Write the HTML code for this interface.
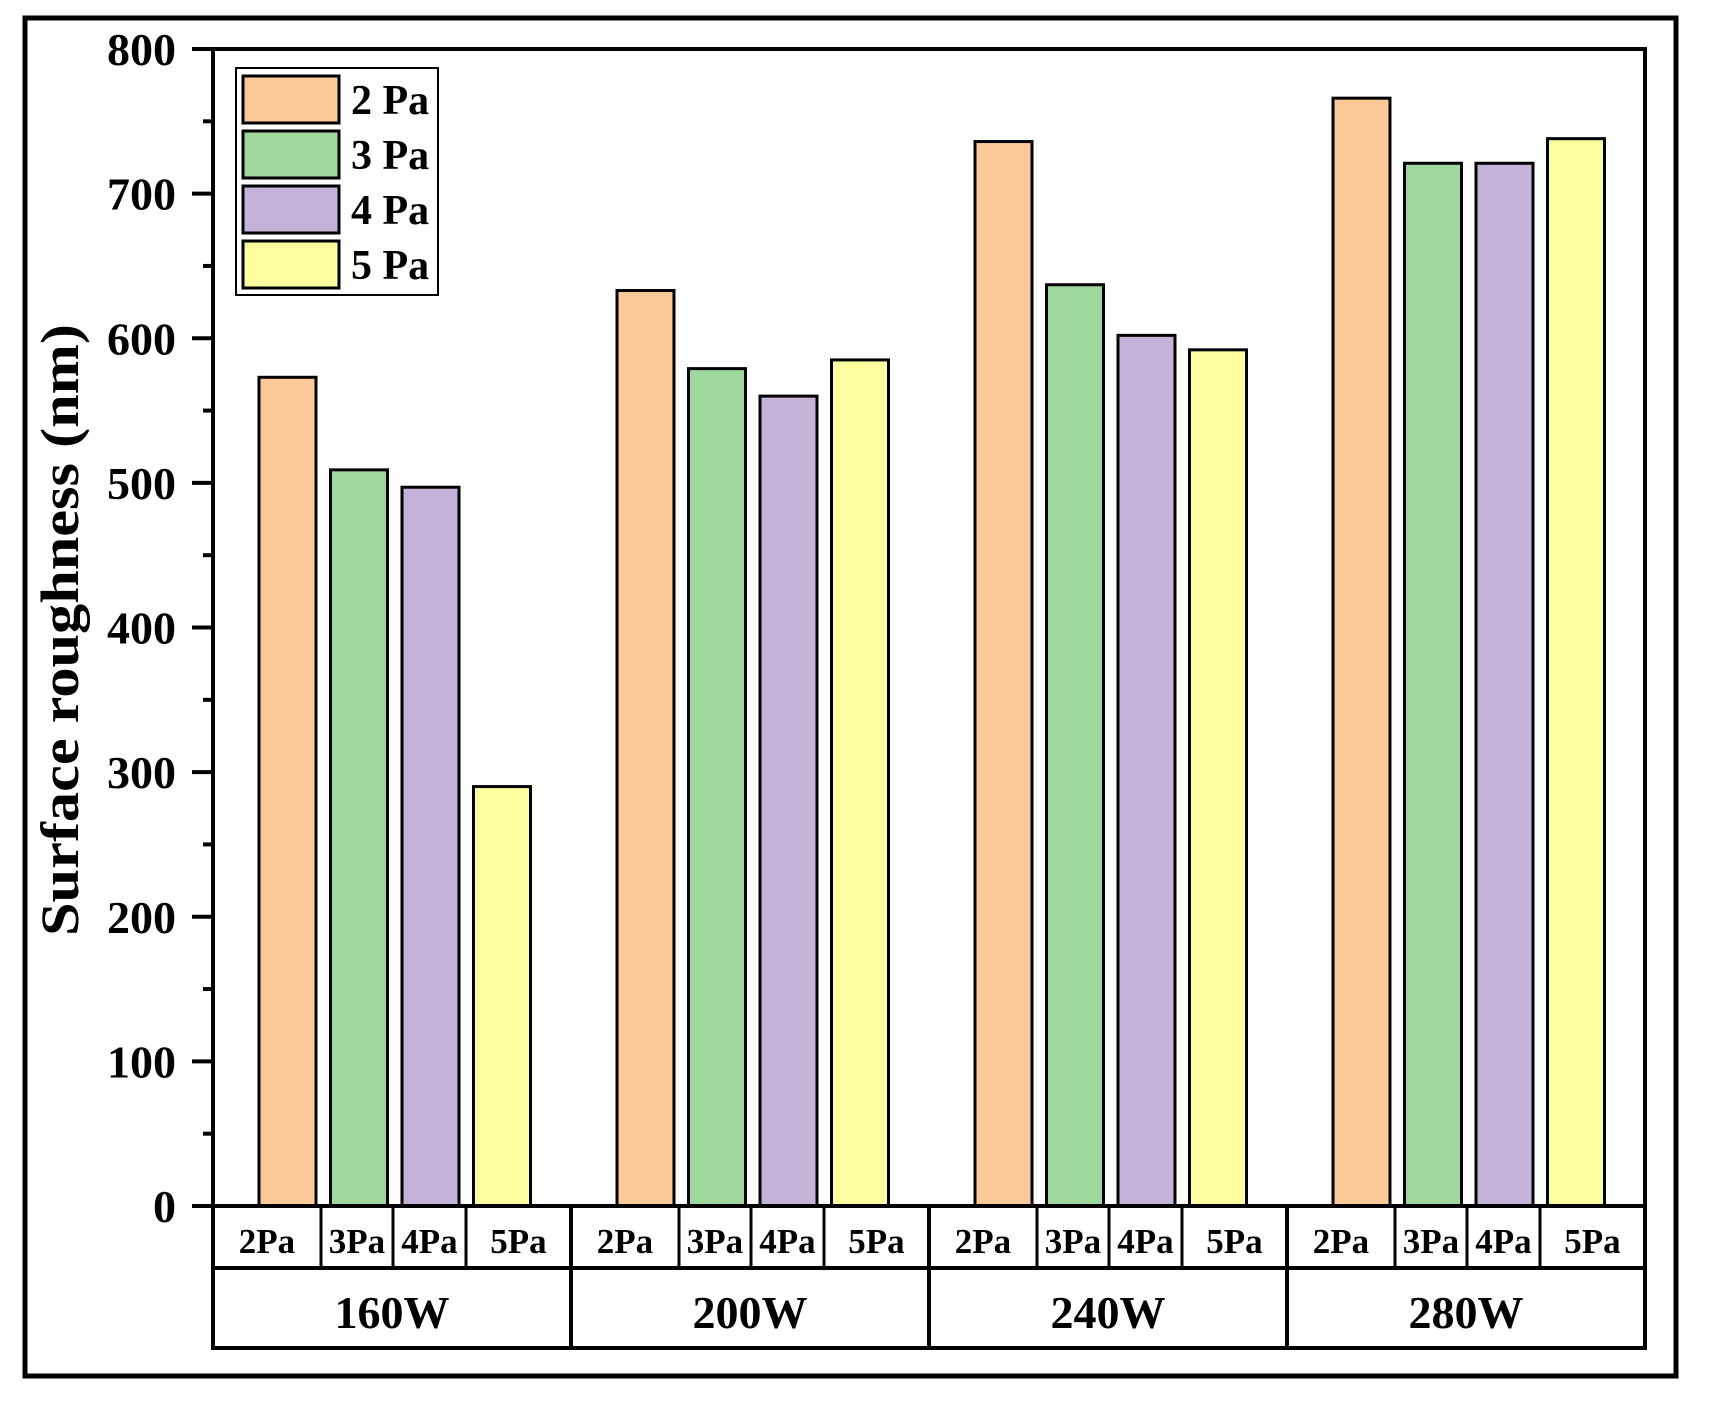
<!DOCTYPE html>
<html><head><meta charset="utf-8"><style>
html,body{margin:0;padding:0;background:#fff;}
svg{display:block;font-family:"Liberation Serif",serif;font-weight:bold;}
</style></head><body>
<svg id="chart" width="1710" height="1408" viewBox="0 0 1710 1408">
<rect x="25" y="18" width="1651" height="1358" fill="none" stroke="#000" stroke-width="5"/>
<g id="bars"></g>
<g id="axes"></g>
<text x="0" y="0" transform="translate(78,630) rotate(-90)" text-anchor="middle" font-size="54" textLength="612" lengthAdjust="spacingAndGlyphs">Surface roughness (nm)</text>
<g id="legend"></g>
</svg>
<script>
const groups = ["160W","200W","240W","280W"];
const seriesNames = ["2 Pa","3 Pa","4 Pa","5 Pa"];
const subLabels = ["2Pa","3Pa","4Pa","5Pa"];
const s2Pa = [573,633,736,766];
const s3Pa = [509,579,637,721];
const s4Pa = [497,560,602,721];
const s5Pa = [290,585,592,738];
const yTicks = [0,100,200,300,400,500,600,700,800];

const series = [s2Pa,s3Pa,s4Pa,s5Pa];
const colors = ["#fbc998","#9fd89c","#c3b3d8","#fdfe9e"];
const NS = "http://www.w3.org/2000/svg";
const L=213, R=1645, T=49, Y0=1206, YMAX=800;
const gw=(R-L)/groups.length;
function y(v){return Y0-(v/YMAX)*(Y0-T);}
function xBar(g,s){return L+g*gw+46+s*71.5;}
const BW=57;
function mk(tag,attrs,parent){const e=document.createElementNS(NS,tag);for(const k in attrs)e.setAttribute(k,attrs[k]);parent.appendChild(e);return e;}
const bars=document.getElementById('bars'), axes=document.getElementById('axes'), legend=document.getElementById('legend');
series.forEach((arr,s)=>{arr.forEach((v,g)=>{
  const r=mk('rect',{x:xBar(g,s),y:y(v),width:BW,height:Y0-y(v),fill:colors[s],stroke:'#000','stroke-width':3},bars);
  
  
});});
const fr=mk('rect',{x:L,y:T,width:R-L,height:Y0-T,fill:'none',stroke:'#000','stroke-width':4},axes);


yTicks.forEach(v=>{
  const t=mk('line',{x1:L-21,x2:L,y1:y(v),y2:y(v),stroke:'#000','stroke-width':4},axes);
  
  
  const tx=mk('text',{x:176,y:y(v)+16,'text-anchor':'end','font-size':46},axes);
  tx.textContent=v;
  
  
  if(v<YMAX){const m=mk('line',{x1:L-10,x2:L,y1:y(v+50),y2:y(v+50),stroke:'#000','stroke-width':4},axes);
    
    }
});
const tb=mk('rect',{x:L,y:Y0,width:R-L,height:1348-Y0,fill:'none',stroke:'#000','stroke-width':4},axes);


mk('line',{x1:L,x2:R,y1:1268,y2:1268,stroke:'#000','stroke-width':4},axes);
groups.forEach((g,i)=>{
  const gx=L+i*gw;
  if(i>0){mk('line',{x1:gx,x2:gx,y1:Y0,y2:1348,stroke:'#000','stroke-width':4},axes);}
  const gt=mk('text',{x:gx+gw/2,y:1328,'text-anchor':'middle','font-size':46},axes);
  gt.textContent=g;
  
  
  const divs=[108,180,253];
  divs.forEach(d=>mk('line',{x1:gx+d,x2:gx+d,y1:Y0,y2:1268,stroke:'#000','stroke-width':3},axes));
  const edges=[0,108,180,253,gw];
  subLabels.forEach((s,j)=>{
    const st=mk('text',{x:gx+(edges[j]+edges[j+1])/2,y:1253,'text-anchor':'middle','font-size':35},axes);
    st.textContent=s;
    
    
  });
});
const lb=mk('rect',{x:236,y:68,width:202,height:227,fill:'#fff',stroke:'#000','stroke-width':2},legend);


seriesNames.forEach((n,i)=>{
  const sw=mk('rect',{x:243,y:76+i*55,width:96,height:47,fill:colors[i],stroke:'#000','stroke-width':3},legend);
  
  
  const lt=mk('text',{x:351,y:114+i*55,'font-size':42},legend);
  lt.textContent=n;
  
  
});
</script>
</body></html>
